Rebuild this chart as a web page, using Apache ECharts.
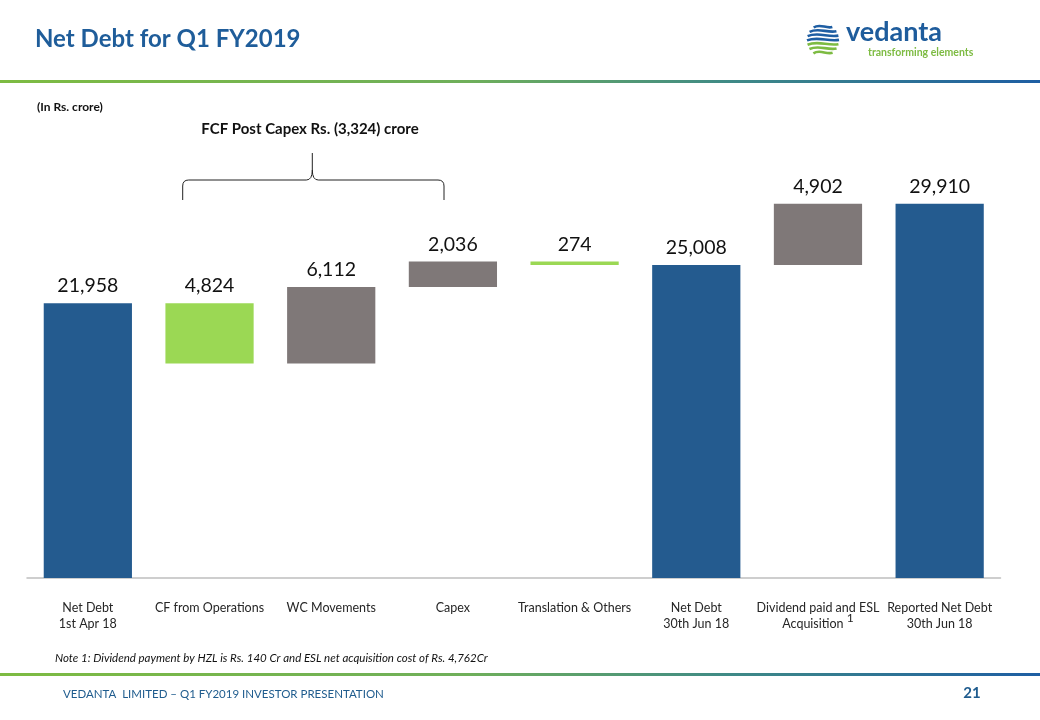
<!DOCTYPE html>
<html>
<head>
<meta charset="utf-8">
<script src="https://cdn.jsdelivr.net/npm/echarts@6/dist/echarts.min.js"></script>
<style>
html,body{margin:0;padding:0;background:#fff;}
#main{width:1040px;height:720px;}
</style>
</head>
<body>
<div id="main"></div>
<script>
// ---- data ----
const categories = [
  'Net Debt\n1st Apr 18',
  'CF from Operations',
  'WC Movements',
  'Capex',
  'Translation & Others',
  'Net Debt\n30th Jun 18',
  'Dividend paid and ESL\nAcquisition',
  'Reported Net Debt\n30th Jun 18'
];
const amounts = [21958, 4824, 6112, 2036, 274, 25008, 4902, 29910];
const kinds = ['total', 'decrease', 'increase', 'increase', 'decrease', 'total', 'increase', 'total'];
const footnoteMarks = ['', '', '', '', '', '', '1', ''];

const colors = { total: '#245B8F', decrease: '#9BD854', increase: '#7F7878' };

// build waterfall base / visible parts
const base = [];
const visible = [];
let running = 0;
amounts.forEach((a, i) => {
  const k = kinds[i];
  if (k === 'total') { base.push(0); running = a; }
  else if (k === 'increase') { base.push(running); running += a; }
  else { running -= a; base.push(running); }
  visible.push({ value: a, itemStyle: { color: colors[k] } });
});

const FONT = 'Lato, "Noto Sans", sans-serif';

const chart = echarts.init(document.getElementById('main'), null, { renderer: 'canvas' });

const grad = () => new echarts.graphic.LinearGradient(0, 0, 1, 0, [
  { offset: 0, color: '#7DBB42' },
  { offset: 0.45, color: '#6FAF5A' },
  { offset: 0.7, color: '#3F8A86' },
  { offset: 1, color: '#1E5EA3' }
]);

// logo stripes
const logoChildren = [];
const cx = 823, cy = 39, r = 16;
for (let i = 0; i < 7; i++) {
  const y = cy - 13 + i * 4.3;
  const dy = y - cy;
  const hw = Math.sqrt(Math.max(r * r - dy * dy, 4));
  const x0 = cx - hw, x1 = cx + hw;
  logoChildren.push({
    type: 'bezierCurve',
    shape: { x1: x0, y1: y + 1.5, x2: x1, y2: y + 1, cpx1: cx - hw * 0.3, cpy1: y - 3, cpx2: cx + hw * 0.3, cpy2: y + 3 },
    style: { stroke: i < 4 ? '#1E5EA3' : '#7DBB42', lineWidth: 2.6, fill: null }
  });
}

// bracket pieces
const bs = { stroke: '#222', lineWidth: 1, fill: null };
const bracket = [
  { type: 'line', shape: { x1: 182.7, y1: 200, x2: 182.7, y2: 186 }, style: bs },
  { type: 'bezierCurve', shape: { x1: 182.7, y1: 186, x2: 188.7, y2: 180, cpx1: 182.7, cpy1: 180 }, style: bs },
  { type: 'line', shape: { x1: 188.7, y1: 180, x2: 306.3, y2: 180 }, style: bs },
  { type: 'bezierCurve', shape: { x1: 306.3, y1: 180, x2: 312.3, y2: 170, cpx1: 312.3, cpy1: 180 }, style: bs },
  { type: 'line', shape: { x1: 312.3, y1: 170, x2: 312.3, y2: 153 }, style: bs },
  { type: 'bezierCurve', shape: { x1: 312.3, y1: 170, x2: 318.3, y2: 180, cpx1: 312.3, cpy1: 180 }, style: bs },
  { type: 'line', shape: { x1: 318.3, y1: 180, x2: 438, y2: 180 }, style: bs },
  { type: 'bezierCurve', shape: { x1: 438, y1: 180, x2: 444, y2: 186, cpx1: 444, cpy1: 180 }, style: bs },
  { type: 'line', shape: { x1: 444, y1: 186, x2: 444, y2: 200 }, style: bs }
];

const option = {
  animation: false,
  backgroundColor: '#ffffff',
  grid: { left: 27, right: 39.5, top: 140, bottom: 142, containLabel: false },
  xAxis: {
    type: 'category',
    data: categories,
    axisLine: { show: true, lineStyle: { color: '#BFBFBF', width: 1.5 } },
    axisTick: { show: false },
    axisLabel: {
      interval: 0,
      margin: 22,
      color: '#262626',
      fontFamily: FONT,
      fontSize: 12.5,
      lineHeight: 16,
      formatter: (v, idx) => footnoteMarks[idx] ? v + ' {sup|' + footnoteMarks[idx] + '}' : v,
      rich: {
        sup: { fontSize: 12, fontFamily: FONT, color: '#262626', verticalAlign: 'bottom', padding: [0, 0, 8, 0], lineHeight: 16 }
      }
    }
  },
  yAxis: {
    type: 'value',
    min: 0,
    max: 35000,
    show: false,
    splitLine: { show: false }
  },
  series: [
    {
      type: 'bar',
      stack: 'wf',
      data: base,
      itemStyle: { color: 'transparent' },
      emphasis: { disabled: true },
      silent: true,
      barWidth: '72.5%'
    },
    {
      type: 'bar',
      stack: 'wf',
      data: visible,
      barWidth: '72.5%',
      label: {
        show: true,
        position: 'top',
        distance: 7,
        fontFamily: FONT,
        fontSize: 19.5,
        color: '#111111',
        formatter: p => p.value.toLocaleString('en-US')
      }
    }
  ],
  graphic: [
    { type: 'rect', shape: { x: 0, y: 80, width: 1040, height: 3 }, style: { fill: grad() } },
    { type: 'rect', shape: { x: 0, y: 673, width: 1040, height: 3 }, style: { fill: grad() } },
    { type: 'text', x: 35, y: 39, style: { text: 'Net Debt for Q1 FY2019', fill: '#1F5D9A', font: 'bold 24px ' + FONT, textVerticalAlign: 'middle' } },
    { type: 'group', children: logoChildren },
    { type: 'text', x: 846, y: 46, style: { text: 'vedanta', fill: '#1E5C9C', font: 'bold 27px ' + FONT, textVerticalAlign: 'bottom' } },
    { type: 'text', x: 868, y: 53, style: { text: 'transforming elements', fill: '#7DBB42', font: 'bold 10.5px ' + FONT, textVerticalAlign: 'middle' } },
    { type: 'text', x: 37, y: 107, style: { text: '(In Rs. crore)', fill: '#111', font: 'bold 12px ' + FONT, textVerticalAlign: 'middle' } },
    { type: 'text', x: 310, y: 129, style: { text: 'FCF Post Capex Rs. (3,324) crore', fill: '#111', font: 'bold 15px ' + FONT, textAlign: 'center', textVerticalAlign: 'middle' } },
    { type: 'group', children: bracket },
    { type: 'text', x: 55, y: 658, style: { text: 'Note 1: Dividend payment by HZL is Rs. 140 Cr and ESL net acquisition cost of Rs. 4,762Cr', fill: '#111', font: 'italic 11.5px ' + FONT, textVerticalAlign: 'middle' } },
    { type: 'text', x: 63, y: 694, style: { text: 'VEDANTA  LIMITED \u2013 Q1 FY2019 INVESTOR PRESENTATION', fill: '#1F5C8E', font: '11.5px ' + FONT, textVerticalAlign: 'middle' } },
    { type: 'text', x: 972, y: 693, style: { text: '21', fill: '#1F5C8E', font: 'bold 15px ' + FONT, textAlign: 'center', textVerticalAlign: 'middle' } }
  ]
};
chart.setOption(option);
</script>
</body>
</html>
